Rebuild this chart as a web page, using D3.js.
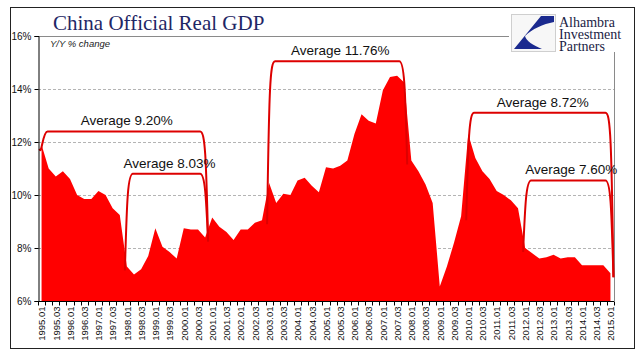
<!DOCTYPE html>
<html>
<head>
<meta charset="utf-8">
<script src="https://cdn.jsdelivr.net/npm/d3@7"></script>
<style>
  body { margin: 0; background: #fff; }
  svg { display: block; font-family: "Liberation Sans", Arial, sans-serif; }
</style>
</head>
<body>
<svg class="d3" width="641" height="361"></svg>
<script>
// quarterly real GDP, y/y % change
var years = [1995, 1996, 1997, 1998, 1999, 2000, 2001, 2002, 2003, 2004,
             2005, 2006, 2007, 2008, 2009, 2010, 2011, 2012, 2013, 2014, 2015];
var gdp = [
  [11.9, 11.0, 10.7, 10.9],
  [10.6, 10.0, 9.85, 9.85],
  [10.15, 10.0, 9.5, 9.25],
  [7.3, 7.0, 7.2, 7.7],
  [8.75, 8.05, 7.85, 7.6],
  [8.75, 8.7, 8.7, 8.4],
  [9.15, 8.8, 8.6, 8.3],
  [8.7, 8.7, 8.95, 9.05],
  [10.45, 9.7, 10.05, 10.0],
  [10.55, 10.65, 10.35, 10.1],
  [11.05, 11.0, 11.1, 11.3],
  [12.3, 13.05, 12.8, 12.7],
  [13.95, 14.45, 14.5, 14.25],
  [11.3, 10.9, 10.4, 9.7],
  [6.55, 7.3, 8.2, 9.2],
  [12.3, 11.4, 10.9, 10.6],
  [10.15, 10.0, 9.8, 9.5],
  [8.0, 7.8, 7.6, 7.65],
  [7.75, 7.6, 7.65, 7.65],
  [7.35, 7.35, 7.35, 7.35],
  [7.05]
];
var yTicks = [6, 8, 10, 12, 14, 16];

// average brackets: first / last quarter covered, label, height of bracket (in %)
var averages = [
  { from: "1995.01", to: "2000.04", label: "Average 9.20%",  level: 12.4 },
  { from: "1998.01", to: "2000.04", label: "Average 8.03%",  level: 10.8 },
  { from: "2003.01", to: "2007.04", label: "Average 11.76%", level: 15.05 },
  { from: "2010.01", to: "2015.01", label: "Average 8.72%",  level: 13.1 },
  { from: "2012.01", to: "2015.01", label: "Average 7.60%",  level: 10.55 }
];

(function () {
  var data = [];
  years.forEach(function(yr, k) {
    gdp[k].forEach(function(v, q) {
      data.push({ label: yr + ".0" + (q + 1), value: v });
    });
  });
  var labels = data.map(function(d) { return d.label; });
  var indexOf = {};
  data.forEach(function(d, i) { indexOf[d.label] = i; });

  var svg = d3.select("svg.d3");
  var mLeft = 38, mRight = 614, mTop = 36, mBottom = 301;

  var x = d3.scalePoint().domain(labels).range([mLeft, mRight]).padding(0.5);
  var y = d3.scaleLinear().domain([6, 16]).range([mBottom, mTop]);
  var step = x.step();

  // outer frame
  svg.append("rect")
      .attr("x", 10.5).attr("y", 7.5)
      .attr("width", 624).attr("height", 341)
      .attr("fill", "none").attr("stroke", "#222").attr("stroke-width", 1);

  // title
  svg.append("text")
      .attr("x", 53).attr("y", 30)
      .style("font-family", "'Liberation Serif', 'Times New Roman', serif")
      .style("font-size", "21px")
      .attr("fill", "#1f2766")
      .text("China Official Real GDP");

  // gridlines
  svg.append("g").selectAll("line")
      .data(yTicks.filter(function(t) { return t > 6 && t < 16; }))
    .enter().append("line")
      .attr("x1", mLeft).attr("x2", mRight)
      .attr("y1", function(d) { return Math.round(y(d)) + 0.5; })
      .attr("y2", function(d) { return Math.round(y(d)) + 0.5; })
      .attr("stroke", "#b4b4b4")
      .attr("stroke-dasharray", "3,2");

  // plot frame (top and right, cut by the logo)
  svg.append("line")
      .attr("x1", mLeft).attr("x2", 509)
      .attr("y1", mTop + 0.5).attr("y2", mTop + 0.5)
      .attr("stroke", "#8a8a8a");
  svg.append("line")
      .attr("x1", mRight + 0.5).attr("x2", mRight + 0.5)
      .attr("y1", 52).attr("y2", mBottom)
      .attr("stroke", "#8a8a8a");

  // area
  var area = d3.area()
      .x(function(d) { return x(d.label); })
      .y0(y(6))
      .y1(function(d) { return y(d.value); });

  svg.append("path")
      .datum(data)
      .attr("fill", "#ff0000")
      .attr("d", area);

  // "Y/Y % change"
  svg.append("text")
      .attr("x", 50).attr("y", 47)
      .style("font-size", "9.5px")
      .style("font-style", "italic")
      .attr("fill", "#222")
      .text("Y/Y % change");

  // average brackets
  var brackets = svg.append("g").attr("class", "brackets");
  averages.forEach(function(a) {
    var i0 = indexOf[a.from], i1 = indexOf[a.to];
    var xL = x(a.from) - 2, xR = x(a.to) + 3;
    var lowL = d3.min(data.slice(Math.max(0, i0 - 1), i0 + 1), function(d) { return d.value; });
    var lowR = d3.min(data.slice(i1, i1 + 2), function(d) { return d.value; });
    var yT = y(a.level), yBL = y(lowL) + 4, yBR = y(lowR) + 4;
    var p = d3.path();
    p.moveTo(xL, yBL);
    p.bezierCurveTo(xL + 2, yT + 25, xL + 3, yT, xL + 8, yT);
    p.lineTo(xR - 8, yT);
    p.bezierCurveTo(xR - 3, yT, xR - 2, yT + 25, xR, yBR);
    brackets.append("path")
        .attr("d", p.toString())
        .attr("fill", "none")
        .attr("stroke", "#dd0000")
        .attr("stroke-width", 2);
    brackets.append("text")
        .attr("x", (xL + xR) / 2 + 3)
        .attr("y", yT - 6)
        .attr("text-anchor", "middle")
        .style("font-size", "13.5px")
        .attr("fill", "#111")
        .text(a.label);
  });

  // y axis (left)
  var yAxis = svg.append("g")
      .attr("transform", "translate(" + (mLeft + 0.5) + ",0)")
      .call(d3.axisLeft(y).tickValues(yTicks)
        .tickSize(4).tickPadding(3)
        .tickFormat(function(d) { return d + "%"; }));
  yAxis.select(".domain").attr("stroke", "#000");
  yAxis.selectAll(".tick line").attr("stroke", "#000");
  yAxis.selectAll("text")
      .style("font-size", "10px")
      .style("font-family", "'Liberation Sans', Arial, sans-serif")
      .attr("fill", "#111");

  // x axis (bottom), every other quarter labelled
  var xAxis = svg.append("g")
      .attr("transform", "translate(0," + (mBottom + 0.5) + ")")
      .call(d3.axisBottom(x)
        .tickValues(labels.filter(function(d, i) { return i % 2 === 0; }))
        .tickSize(0).tickSizeOuter(0));
  xAxis.select(".domain").attr("stroke", "#000").attr("d", "M" + mLeft + ",0H" + mRight);
  xAxis.selectAll("text")
      .attr("transform", "rotate(-90)")
      .attr("x", -5).attr("y", 0).attr("dy", "0.35em")
      .attr("text-anchor", "end")
      .style("font-size", "9.5px")
      .style("font-family", "'Liberation Sans', Arial, sans-serif")
      .attr("fill", "#111");

  // quarter tick marks between categories
  xAxis.append("g").selectAll("line")
      .data(d3.range(labels.length + 1))
    .enter().append("line")
      .attr("x1", function(k) { return Math.round(mLeft + k * step) + 0.5; })
      .attr("x2", function(k) { return Math.round(mLeft + k * step) + 0.5; })
      .attr("y1", 0).attr("y2", 4)
      .attr("stroke", "#000");

  // logo
  var logo = svg.append("g").attr("transform", "translate(511,14)");
  logo.append("rect")
      .attr("x", 0.5).attr("y", 0.5).attr("width", 44).attr("height", 37)
      .attr("fill", "#f7f7f7").attr("stroke", "#cfcfcf");
  logo.append("path")
      .attr("d", "M43,2 L30,2 L3,35 L31,35 C22,31 15,27 14,22 C21,15 32,10 43,8 Z")
      .attr("fill", "#1b2a8f");
  var logoText = logo.append("text")
      .attr("x", 48).attr("y", 13)
      .style("font-family", "'Liberation Serif', 'Times New Roman', serif")
      .style("font-size", "14px")
      .attr("fill", "#1b1d45");
  ["Alhambra", "Investment", "Partners"].forEach(function(t, i) {
    logoText.append("tspan").attr("x", 48).attr("dy", i === 0 ? 0 : 12).text(t);
  });
})();
</script>
</body>
</html>
